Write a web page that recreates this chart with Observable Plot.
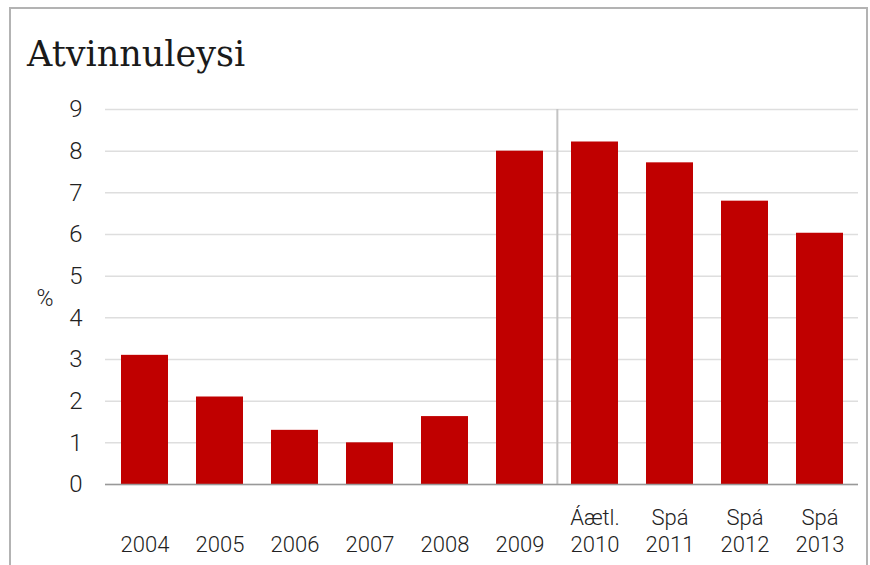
<!DOCTYPE html>
<html>
<head>
<meta charset="utf-8">
<script src="https://cdn.jsdelivr.net/npm/d3@7"></script>
<script src="https://cdn.jsdelivr.net/npm/@observablehq/plot@0.6"></script>
<style>
  html, body { margin: 0; padding: 0; background: #fff; }
  #wrap { position: relative; width: 870px; height: 565px; overflow: hidden; }
  #frame { position: absolute; left: 9px; top: 7px; width: 855px; height: 600px;
           border: 2px solid #b3b3b3; border-bottom: none; box-sizing: content-box; }
  #title { position: absolute; left: 27px; top: 37px; margin: 0;
           font-family: "DejaVu Serif", serif; font-weight: normal; font-size: 35px; color: #1a1a1a; line-height: 1; }
  #chart { position: absolute; left: 0; top: 0; }
</style>
</head>
<body>
<div id="wrap">
  <div id="frame"></div>
  <div id="chart"></div>
  <h1 id="title">Atvinnuleysi</h1>
</div>
<script>
const categories = ["2004", "2005", "2006", "2007", "2008", "2009", "Áætl.\n2010", "Spá\n2011", "Spá\n2012", "Spá\n2013"];
const values = [3.1, 2.1, 1.3, 1.0, 1.63, 8.0, 8.22, 7.72, 6.8, 6.03];
const yTicks = [0, 1, 2, 3, 4, 5, 6, 7, 8, 9];
const yLabel = "%";
const dividerBefore = "Áætl.\n2010";

const data = categories.map((c, i) => ({ category: c, value: values[i] }));

const W = 870, H = 565, ML = 105, MR = 12, MT = 109, MB = 81;
const step = (W - ML - MR) / categories.length;

const plot = Plot.plot({
  width: W,
  height: H,
  marginLeft: ML,
  marginRight: MR,
  marginTop: MT,
  marginBottom: MB,
  style: { fontFamily: "Roboto, sans-serif", color: "#222", background: "transparent" },
  x: { domain: categories, paddingInner: 0.375, paddingOuter: 0.1875, label: null },
  y: { domain: [0, 9], label: null },
  marks: [
    Plot.gridY(yTicks, { stroke: "#dedede", strokeOpacity: 1, strokeWidth: 1.5 }),
    Plot.barY(data, { x: "category", y: "value", fill: "#c00000" }),
    Plot.ruleX([dividerBefore], { x: d => d, dx: -step / 2, y1: 0, y2: 9, stroke: "#c4c4c4", strokeWidth: 2 }),
    Plot.ruleY([0], { stroke: "#999", strokeWidth: 1.5 }),
    Plot.axisY(yTicks, { tickSize: 0, tickPadding: 23, fontSize: 24, fontWeight: 300, label: null }),
    Plot.axisX({ tickSize: 0, lineAnchor: "bottom", lineHeight: 1.2, tickPadding: 67, fontSize: 22, fontWeight: 300, label: null }),
    Plot.text([yLabel], { frameAnchor: "left", dx: -69, dy: 2, fontSize: 23, fontWeight: 300, text: d => d, fill: "#222" })
  ]
});
document.getElementById("chart").appendChild(plot);
</script>
</body>
</html>
